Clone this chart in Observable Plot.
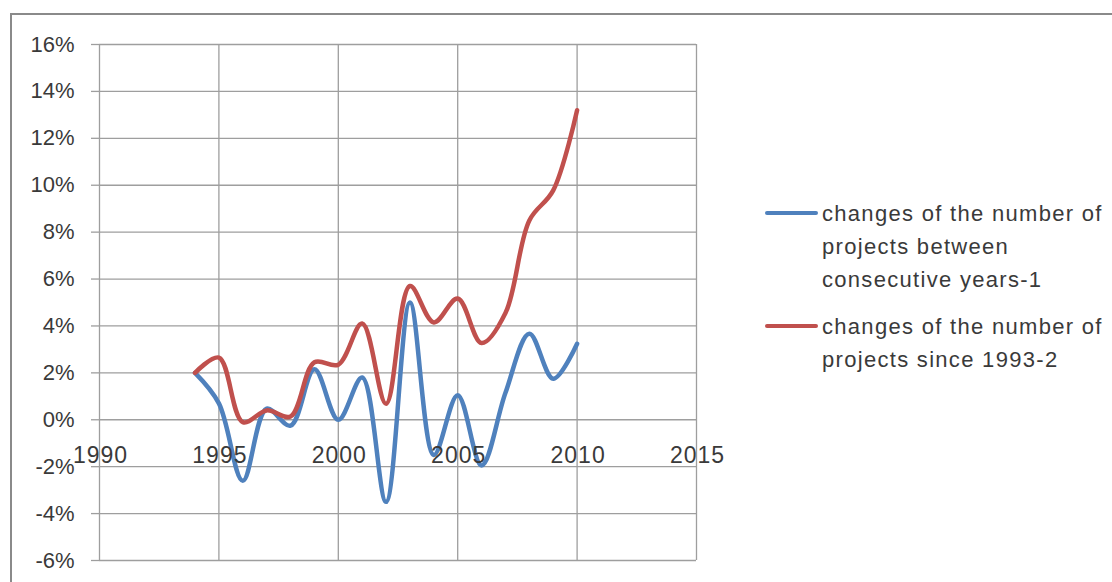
<!DOCTYPE html>
<html>
<head>
<meta charset="utf-8">
<script src="https://cdn.jsdelivr.net/npm/d3@7"></script>
<script src="https://cdn.jsdelivr.net/npm/@observablehq/plot@0.6"></script>
<style>
  html, body { margin: 0; padding: 0; background: #fff; }
  #wrap { position: relative; width: 1112px; height: 582px; overflow: hidden; font-family: "Liberation Sans", Arial, sans-serif; }
  #frame { position: absolute; left: 10px; top: 13px; width: 1200px; height: 700px; border-left: 2px solid #8a8a8a; border-top: 2px solid #8a8a8a; pointer-events: none; }
  #legend { position: absolute; left: 765px; top: 0; color: #3a3a3a; font-size: 22px; letter-spacing: 1.3px; }
  .item { position: absolute; left: 0; width: 345px; }
  .swatch { position: absolute; left: 0; width: 53px; height: 4px; border-radius: 2px; }
  .label { position: absolute; left: 57px; line-height: 33px; white-space: nowrap; }
</style>
</head>
<body>
<div id="wrap"><div id="frame"></div><div id="legend"></div></div>
<script>
const years = [1994, 1995, 1996, 1997, 1998, 1999, 2000, 2001, 2002, 2003, 2004, 2005, 2006, 2007, 2008, 2009, 2010];
const consecutive = [0.020, 0.007, -0.026, 0.0047, -0.0025, 0.0215, 0.000, 0.018, -0.035, 0.050, -0.015, 0.0105, -0.0195, 0.0115, 0.0367, 0.0175, 0.0324];
const since1993 = [0.020, 0.0265, -0.001, 0.004, 0.0014, 0.0245, 0.0235, 0.041, 0.0068, 0.057, 0.0415, 0.0517, 0.0327, 0.0455, 0.085, 0.0978, 0.132];
const seriesNames = ["changes of the number of\nprojects between\nconsecutive years-1", "changes of the number of\nprojects since 1993-2"];
const seriesColors = ["#4F81BD", "#C0504D"];
const xTicks = [1990, 1995, 2000, 2005, 2010, 2015];
const yTicks = [-0.06, -0.04, -0.02, 0, 0.02, 0.04, 0.06, 0.08, 0.10, 0.12, 0.14, 0.16];

const rows = [];
years.forEach((yr, i) => {
  rows.push({year: yr, value: consecutive[i], series: seriesNames[0]});
  rows.push({year: yr, value: since1993[i], series: seriesNames[1]});
});

const pct = d => `${Math.round(d * 100)}%`;
const font = "Liberation Sans, Arial, sans-serif";

const chart = Plot.plot({
  width: 1112,
  height: 582,
  marginLeft: 99,
  marginRight: 416,
  marginTop: 44,
  marginBottom: 22,
  style: {fontFamily: font, fontSize: "22px", color: "#3a3a3a", background: "transparent", overflow: "visible"},
  x: {domain: [1990, 2015], axis: null},
  y: {domain: [-0.06, 0.16], axis: null},
  color: {domain: seriesNames, range: seriesColors},
  marks: [
    Plot.ruleY(yTicks, {y: d => d, x1: 1990, x2: 2015, stroke: "#9e9e9e", strokeWidth: 1.3}),
    Plot.ruleX(xTicks, {x: d => d, y1: -0.06, y2: 0.16, stroke: "#9e9e9e", strokeWidth: 1.3}),
    Plot.axisY(yTicks, {label: null, tickSize: 8, tickPadding: 17, tickFormat: pct, stroke: "#9e9e9e", strokeWidth: 1.3, fill: "#3a3a3a", fontSize: 22}),
    Plot.line(rows, {x: "year", y: "value", z: "series", stroke: "series", strokeWidth: 4.5, curve: "catmull-rom"}),
    Plot.text(xTicks, {x: d => d, y: 0, text: d => String(d), dy: 36, dx: 1, fill: "#3a3a3a", fontSize: 23, textAnchor: "middle"})
  ]
});
chart.querySelectorAll("text").forEach(t => {
  if (/^\d{4}$/.test(t.textContent)) t.setAttribute("letter-spacing", "1px");
});
document.getElementById("wrap").insertBefore(chart, document.getElementById("frame"));
chart.style.position = "absolute";
chart.style.left = "0";
chart.style.top = "0";

const legend = document.getElementById("legend");
const itemTops = [213, 326];
seriesNames.forEach((name, i) => {
  const item = document.createElement("div");
  item.className = "item";
  item.style.top = itemTops[i] + "px";
  const sw = document.createElement("div");
  sw.className = "swatch";
  sw.style.background = seriesColors[i];
  sw.style.top = "-2px";
  const lab = document.createElement("div");
  lab.className = "label";
  lab.style.top = "-16.5px";
  lab.innerHTML = name.split("\n").join("<br>");
  item.appendChild(sw);
  item.appendChild(lab);
  legend.appendChild(item);
});
</script>
</body>
</html>
